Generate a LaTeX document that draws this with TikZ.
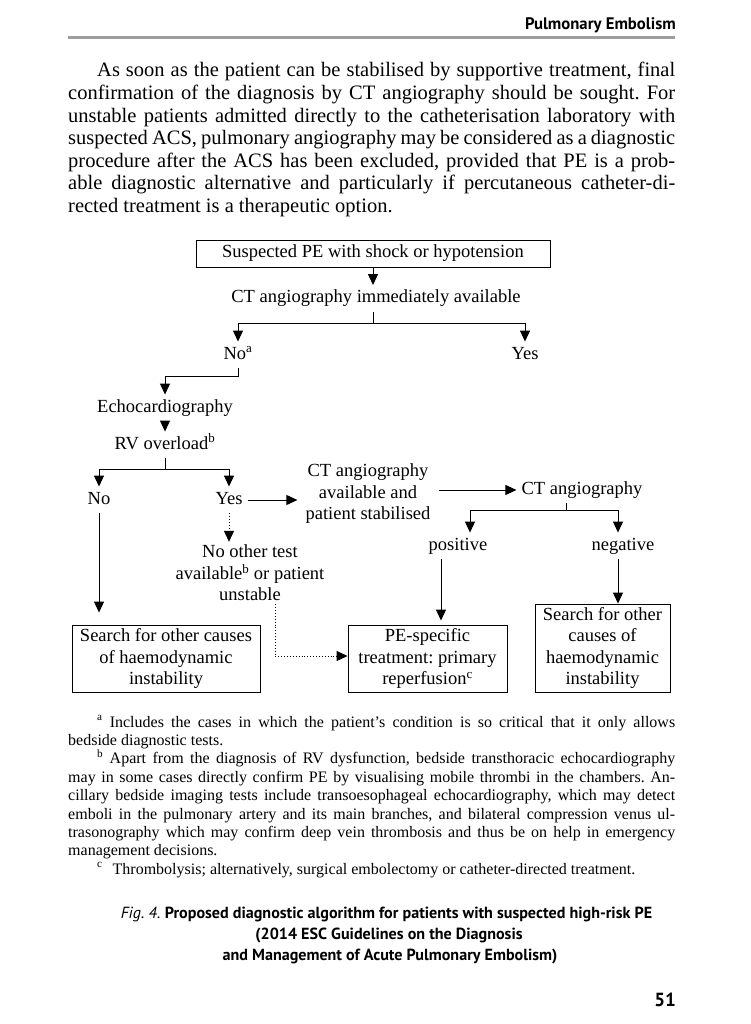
\documentclass[tikz,border=0pt]{standalone}
\usepackage{fontspec}
\setmainfont{Liberation Serif}
\newfontfamily\capfont{PT Sans}
\usetikzlibrary{arrows.meta}
\newcommand{\dfont}{\fontsize{18.5}{21.5}\selectfont}
\frenchspacing
\begin{document}
\begin{tikzpicture}[x=1pt,y=-1pt,
  lbl/.style={font=\dfont, inner sep=5pt, text height=12.5pt, text depth=4pt},
  mlbl/.style={font=\dfont, align=center, inner sep=3pt},
  boxn/.style={draw, line width=0.9pt, font=\dfont, align=center, inner sep=2pt},
  conn/.style={line width=0.9pt},
  arr/.style={conn, -{Triangle[length=11pt,width=10pt]}},
  darr/.style={arr, dotted}]
\useasboundingbox (0,0) rectangle (750,1024);
\fill[white] (0,0) rectangle (750,1024);

% header
\node[anchor=base east, inner sep=0pt, font=\capfont\bfseries\fontsize{16.7}{19}\selectfont] (hdr) at (676,30) {Pulmonary Embolism};
\draw[black!38, line width=2.8pt] (68,37.5) -- (675,37.5);

% body text
\node[anchor=base west, inner sep=0pt, text width=607pt, align=justify, font=\fontsize{20.5}{22.6}\selectfont] (body) at (68,77) {\hspace*{29pt}As soon as the patient can be stabilised by supportive treatment, final\linebreak confirmation of the diagnosis by CT angiography should be sought. For\linebreak unstable patients admitted directly to the catheterisation laboratory with\linebreak suspected ACS, pulmonary angiography may be considered as a diagnostic\linebreak procedure after the ACS has been excluded, provided that PE is a prob-\linebreak able diagnostic alternative and particularly if percutaneous catheter-di-\linebreak rected treatment is a therapeutic option.};

% diagram nodes
\node[boxn, minimum width=354pt, minimum height=27pt] (box1) at (373,253.5) {Suspected PE with shock or hypotension};
\node[lbl] (ct1) at (376,298.5) {CT angiography immediately available};
\coordinate (j1) at (373,323);
\node[lbl] (no1) at (238,355) {No\textsuperscript{a}};
\node[lbl] (yes1) at (525,355) {Yes};
\coordinate (j2) at (238,376);
\node[lbl] (echo) at (165,408) {Echocardiography};
\node[lbl] (rv) at (165,445) {RV overload\textsuperscript{b}};
\coordinate (j4) at (165,469);
\node[lbl] (no2) at (99,500) {No};
\node[lbl] (yes2) at (229,500) {Yes};
\node[mlbl, inner xsep=8pt] (ctav) at (368,494) {CT angiography\\available and\\patient stabilised};
\node[lbl] (ct2) at (582,490) {CT angiography};
\coordinate (j3) at (566,510);
\coordinate (p3l) at (470,510);
\coordinate (p3r) at (618,510);
\node[lbl] (pos) at (458,546) {positive};
\node[lbl] (neg) at (623,546) {negative};
\node[mlbl] (nother) at (250,573) {No other test\\available\textsuperscript{b} or patient\\unstable};
\node[boxn, minimum width=188pt, minimum height=67pt] (lbox) at (166,658.5) {Search for other causes\\of haemodynamic\\instability};
\node[boxn, minimum width=159pt, minimum height=67pt] (pebox) at (427.5,658.5) {PE-specific\\treatment: primary\\reperfusion\textsuperscript{c}};
\node[boxn, minimum width=135pt, minimum height=88pt] (rbox) at (602.5,648) {Search for other\\causes of\\haemodynamic\\instability};
\coordinate (p4) at (441,558);
\coordinate (d1) at (275,656);

% connectors
\draw[arr] (box1.south) -- (box1.south |- ct1.north);
\draw[conn] (ct1.south -| j1) -- (j1);
\draw[arr] (j1) -| (no1.north);
\draw[arr] (j1) -| (yes1.north);
\draw[arr] (no1.south) -- (j2) -| (echo.north);
\draw[arr] (echo.south) -- (rv.north);
\draw[conn] (rv.south -| j4) -- (j4);
\draw[arr] (j4) -| (no2.north);
\draw[arr] (j4) -| (yes2.north);
\draw[arr] (yes2.east) -- (yes2.east -| ctav.west);
\draw[arr] (ctav.east |- ct2) -- (ct2.west);
\draw[conn] (ct2.south -| j3) -- (j3);
\draw[arr] (j3) -| (p3l |- pos.north);
\draw[arr] (j3) -| (p3r |- neg.north);
\draw[arr, shorten >=4pt] (pos.south -| p4) -- (p4 |- pebox.north);
\draw[arr] (neg.south -| p3r) -- (p3r |- rbox.north);
\draw[arr, shorten >=12pt] (no2.south) -- (no2.south |- lbox.north);
\draw[darr] (yes2.south) -- (yes2.south |- nother.north);
\draw[darr] (nother.south -| d1) -- (d1) -- (d1 -| pebox.west);

% footnotes
\node[anchor=base west, inner sep=0pt, text width=607pt, align=justify, font=\fontsize{16}{18.4}\selectfont] (notes) at (68,727) {\hspace*{29pt}\textsuperscript{a} Includes the cases in which the patient's condition is so critical that it only allows\linebreak bedside diagnostic tests.\par
\hspace*{29pt}\textsuperscript{b} Apart from the diagnosis of RV dysfunction, bedside transthoracic echocardiography\linebreak may in some cases directly confirm PE by visualising mobile thrombi in the chambers. An-\linebreak cillary bedside imaging tests include transoesophageal echocardiography, which may detect\linebreak emboli in the pulmonary artery and its main branches, and bilateral compression venus ul-\linebreak trasonography which may confirm deep vein thrombosis and thus be on help in emergency\linebreak management decisions.\par
\hspace*{29pt}\textsuperscript{c}\hspace{6pt} Thrombolysis; alternatively, surgical embolectomy or catheter-directed treatment.};

% caption
\node[anchor=base, inner sep=0pt, font=\capfont\fontsize{16.1}{21}\selectfont] (cap1) at (386.5,918) {{\itshape Fig. 4.} \textbf{Proposed diagnostic algorithm for patients with suspected high-risk PE}};
\node[anchor=base, inner sep=0pt, font=\capfont\bfseries\fontsize{16.1}{21}\selectfont] (cap2) at (389,939.5) {(2014 ESC Guidelines on the Diagnosis};
\node[anchor=base, inner sep=0pt, font=\capfont\bfseries\fontsize{16.1}{21}\selectfont] (cap3) at (390,960.5) {and Management of Acute Pulmonary Embolism)};

% page number
\node[anchor=base east, inner sep=0pt, font=\capfont\bfseries\fontsize{19}{22}\selectfont] (pnum) at (676,1006) {51};
\end{tikzpicture}
\end{document}
